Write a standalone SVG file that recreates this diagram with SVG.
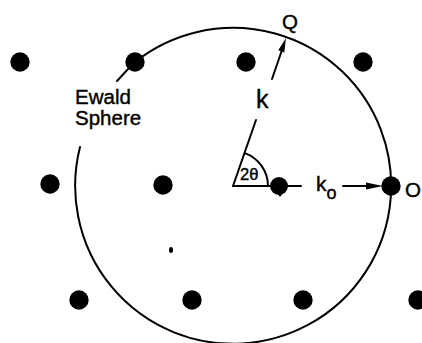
<svg xmlns="http://www.w3.org/2000/svg" width="422" height="343" viewBox="0 0 422 343">
<style>
.ln{fill:none;stroke:#000;stroke-width:2;stroke-linecap:round}
.dot{fill:#000}
.t{font-family:"Liberation Sans",Arial,sans-serif;fill:#000;stroke:#000;stroke-width:0.4}
</style>
<rect width="422" height="343" fill="#fff"/>
<g id="lattice">
<circle class="dot" cx="20" cy="62" r="9.7"/>
<circle class="dot" cx="135" cy="62" r="9.7"/>
<circle class="dot" cx="246" cy="62" r="9.7"/>
<circle class="dot" cx="363" cy="62" r="9.7"/>
<circle class="dot" cx="50" cy="184" r="9.7"/>
<circle class="dot" cx="163" cy="185" r="9.7"/>
<circle class="dot" cx="79" cy="300" r="9.7"/>
<circle class="dot" cx="192" cy="300" r="9.7"/>
<circle class="dot" cx="303" cy="300" r="9.7"/>
<circle class="dot" cx="418" cy="300" r="9.7"/>
<ellipse class="dot" cx="171" cy="250" rx="2" ry="3"/>
</g>
<g id="sphere">
<path class="ln" d="M135,62 A158,158 0 1 1 80,147"/>
<line class="ln" x1="117" y1="81" x2="129" y2="68"/>
<text class="t" x="75" y="104" font-size="20.5">Ewald</text>
<text class="t" x="75" y="125" font-size="20.5">Sphere</text>
</g>
<g id="connectors">
<line class="ln" x1="233" y1="186" x2="256" y2="120"/>
<line class="ln" x1="272" y1="79" x2="282" y2="50"/>
<polygon class="dot" points="286,38 284.3,52.5 278.3,50.3"/>
<line class="ln" x1="233" y1="186" x2="301" y2="186"/>
<path class="ln" d="M268,186 A35,35 0 0 0 244.8,153.1"/>
<line class="ln" x1="343" y1="186" x2="370" y2="186"/>
<polygon class="dot" points="383,186 366,182.5 366,189.5"/>
</g>
<g id="center">
<circle class="dot" cx="279" cy="186" r="9"/>
<polygon class="dot" points="277,193 283,193 280,197"/>
</g>
<g id="O">
<circle class="dot" cx="391" cy="186" r="9.7"/>
<text class="t" x="405" y="197" font-size="20.5">O</text>
</g>
<g id="labels">
<text class="t" x="282" y="29" font-size="20.5">Q</text>
<text class="t" x="256" y="108" font-size="25" stroke-width="0.9">k</text>
<text class="t" x="240" y="180" font-size="16.5">2θ</text>
<text class="t" x="316" y="191" font-size="21">k<tspan font-size="18" dy="8">o</tspan></text>
</g>
</svg>
